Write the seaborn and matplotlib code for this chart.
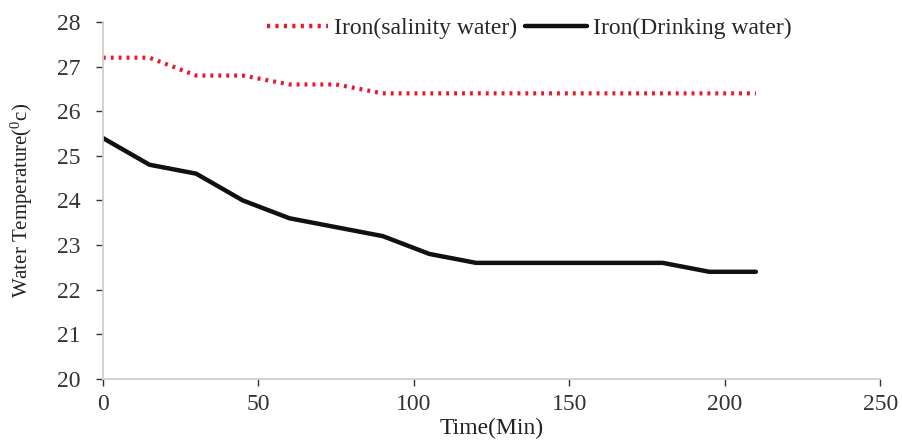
import numpy as np
import pandas as pd
import matplotlib
matplotlib.use("Agg")
import matplotlib.pyplot as plt
import seaborn as sns

time_min = [0, 15, 30, 45, 60, 75, 90, 105, 120, 135, 150, 165, 180, 195, 210]
iron_salinity = [27.2, 27.2, 26.8, 26.8, 26.6, 26.6, 26.4, 26.4, 26.4, 26.4, 26.4, 26.4, 26.4, 26.4, 26.4]
iron_drinking = [25.4, 24.8, 24.6, 24.0, 23.6, 23.4, 23.2, 22.8, 22.6, 22.6, 22.6, 22.6, 22.6, 22.4, 22.4]
series_names = ["Iron(salinity water)", "Iron(Drinking water)"]
x_ticks = [0, 50, 100, 150, 200, 250]
y_ticks = [20, 21, 22, 23, 24, 25, 26, 27, 28]

sns.set_style("white")
plt.rcParams["font.family"] = ["Liberation Serif", "DejaVu Serif"]
plt.rcParams["mathtext.fontset"] = "custom"
plt.rcParams["mathtext.rm"] = "Liberation Serif"
plt.rcParams["mathtext.it"] = "Liberation Serif:italic"

df = pd.DataFrame({
    "Time": time_min * 2,
    "Temp": iron_salinity + iron_drinking,
    "Series": [series_names[0]] * len(time_min) + [series_names[1]] * len(time_min),
})

fig = plt.figure(figsize=(9.02, 4.4), dpi=100)
ax = fig.add_axes([0.114, 0.139, 0.862, 0.811])

sns.lineplot(data=df, x="Time", y="Temp", hue="Series", style="Series",
             palette={series_names[0]: "#e8192c", series_names[1]: "#111111"},
             dashes={series_names[0]: (0.7, 1.2), series_names[1]: ""},
             ax=ax, legend=True)
lines = ax.get_lines()
lines[0].set_linewidth(3.0)
lines[1].set_linewidth(3.2)

ax.set_xlim(0, 250)
ax.set_ylim(20, 28)
ax.set_xticks(x_ticks)
ax.set_yticks(y_ticks)
ax.tick_params(axis="both", labelsize=17, colors="#333333", length=5, width=1,
               direction="out", bottom=True, left=True)
ax.tick_params(axis="y", pad=11)
ax.tick_params(axis="x", pad=6)
for t in ax.get_xticklines() + ax.get_yticklines():
    t.set_color("#c0c0c0")
for side in ["top", "right"]:
    ax.spines[side].set_visible(False)
for side in ["left", "bottom"]:
    ax.spines[side].set_color("#cfcfcf")
    ax.spines[side].set_linewidth(1.3)

ax.set_xlabel("Time(Min)", fontsize=17, color="#222222", labelpad=2)
ax.set_ylabel("Water Temperature($^{0}$c)", fontsize=15, color="#222222", labelpad=16)

handles, labels = ax.get_legend_handles_labels()
for h in handles:
    h.set_linewidth(3.2)
ax.legend(handles, labels, loc="center", bbox_to_anchor=(0.548, 0.983), ncol=2,
          frameon=False, fontsize=17, handlelength=2.6, columnspacing=0.35,
          handletextpad=0.25, borderaxespad=0, borderpad=0)

fig.savefig("out.png", dpi=100)
